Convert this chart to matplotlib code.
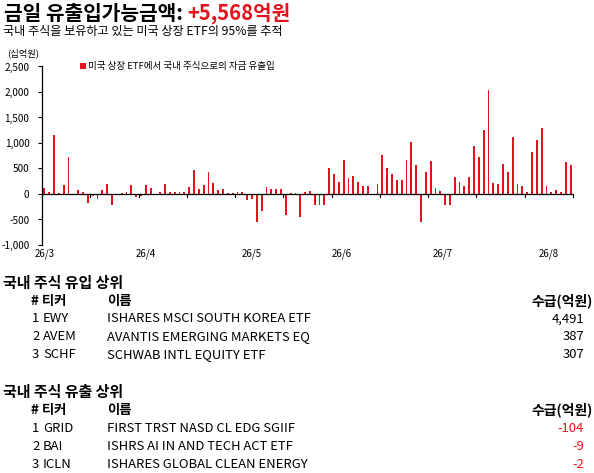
import matplotlib
matplotlib.use("Agg")
import matplotlib.pyplot as plt
import numpy as np

plt.rcParams['font.family'] = ['Noto Sans CJK KR', 'DejaVu Sans']

# ---------------- data ----------------
flows = [110, 30, 1160, 25, 180, 735, 0, 70, 45, -175,
         -45, -90, 70, 200, -220, 0, 20, 30, 180, -65,
         -30, 180, 120, 0, 45, 200, 45, 45, 40, 45,
         143, 475, 104, 170, 423, 221, 72, 91, 26, 15,
         45, 45, -110, -90, -545, -325, 143, 104, 91, 91,
         -420, 20, 26, -455, 45, 65, -208, -220, -220, 515,
         398, 245, 672, 322, 359, 228, 166, 150, 0, 200,
         773, 518, 398, 265, 280, 659, 1024, 574, -555, 440,
         655, 108, 50, -222, -222, 340, 229, 165, 343, 950,
         719, 1249, 2047, 225, 203, 598, 425, 1125, 203, 163,
         46, 814, 1066, 1301, 150, 46, 85, 46, 621, 559]
month_labels = ['26/3', '26/4', '26/5', '26/6', '26/7', '26/8']
month_pos = [0, 21, 43, 61.5, 82.5, 104.5]
yticks = [-1000, -500, 0, 500, 1000, 1500, 2000, 2500]

title_black = '금일 유출입가능금액: '
title_red = '+5,568억원'
subtitle = '국내 주식을 보유하고 있는 미국 상장 ETF의 95%를 추적'
unit_label = '(십억원)'
legend_label = '미국 상장 ETF에서 국내 주식으로의 자금 유출입'

in_title = '국내 주식 유입 상위'
in_rank = ['1', '2', '3']
in_ticker = ['EWY', 'AVEM', 'SCHF']
in_name = ['ISHARES MSCI SOUTH KOREA ETF', 'AVANTIS EMERGING MARKETS EQ', 'SCHWAB INTL EQUITY ETF']
in_value = ['4,491', '387', '307']

out_title = '국내 주식 유출 상위'
out_rank = ['1', '2', '3']
out_ticker = ['GRID', 'BAI', 'ICLN']
out_name = ['FIRST TRST NASD CL EDG SGIIF', 'ISHRS AI IN AND TECH ACT ETF', 'ISHARES GLOBAL CLEAN ENERGY']
out_value = ['-104', '-9', '-2']

hdr_rank = '# 티커'
hdr_name = '이름'
hdr_value = '수급(억원)'

RED = '#E3121B'
W, H = 594, 473

fig = plt.figure(figsize=(W / 100, H / 100), dpi=100)

def fx(px):
    return px / W

def fy(py):
    return 1 - py / H

# ---------------- title ----------------
t1 = fig.text(fx(4), fy(13), title_black, fontsize=14.6, fontweight='bold', color='black', va='center', ha='left')
fig.canvas.draw()
r = fig.canvas.get_renderer()
bb = t1.get_window_extent(renderer=r)
fig.text(bb.x1 / W, fy(13), title_red, fontsize=14.6, fontweight='bold', color=RED, va='center', ha='left')
fig.text(fx(3), fy(31), subtitle, fontsize=8.75, color='black', va='center', ha='left')

# ---------------- chart ----------------
left, right = 42, 573
top, bottom = 66.5, 245
ax = fig.add_axes([fx(left), fy(bottom), fx(right - left), (bottom - top) / H])
x = np.arange(len(flows))
ax.bar(x, flows, width=0.38, color=RED, label=legend_label, zorder=2)
ax.set_xlim(-0.5, len(flows) - 0.5)
ax.set_ylim(-1000, 2500)
for s in ['top', 'right', 'bottom']:
    ax.spines[s].set_visible(False)
ax.spines['left'].set_linewidth(0.9)
ax.axhline(0, color='black', lw=0.9, zorder=3)
ax.set_yticks(yticks)
ax.set_yticklabels([f'{v:,}' for v in yticks], fontsize=7.2)
ax.tick_params(axis='y', length=3, width=0.8, pad=6)
ax.set_xticks([])
# tick marks on zero line every 10 categories
for b in np.arange(-0.5, len(flows), 10):
    ax.plot([b, b], [0, -60], color='black', lw=0.8, zorder=3, clip_on=False)
for p, lab in zip(month_pos, month_labels):
    ax.text(p, -1060, lab, transform=ax.transData, fontsize=7, ha='center', va='top')

leg = ax.legend(loc='upper left', bbox_to_anchor=(0.065, 1.045), frameon=False, fontsize=6.85,
                handlelength=0.55, handleheight=0.55, handletextpad=0.3, borderaxespad=0)
fig.text(fx(7), fy(53), unit_label, fontsize=6.7, va='center', ha='left')

# ---------------- tables ----------------
def table(y0, title, ranks, tickers, names, values, vcolor):
    fig.text(fx(3), fy(y0), title, fontsize=10.8, fontweight='bold', va='center', ha='left')
    yh = y0 + 18
    fig.text(fx(31), fy(yh), hdr_rank, fontsize=9.6, fontweight='bold', va='center', ha='left')
    fig.text(fx(107), fy(yh), hdr_name, fontsize=9.6, fontweight='bold', va='center', ha='left')
    fig.text(fx(593), fy(yh), hdr_value, fontsize=10, fontweight='bold', va='center', ha='right')
    for i in range(len(ranks)):
        yr = yh + 18 * (i + 1)
        fig.text(fx(32), fy(yr), ranks[i], fontsize=9.4, va='center', ha='left')
        fig.text(fx(43), fy(yr), tickers[i], fontsize=9.4, va='center', ha='left')
        fig.text(fx(107), fy(yr), names[i], fontsize=9.4, va='center', ha='left')
        fig.text(fx(584), fy(yr), values[i], fontsize=9.4, va='center', ha='right', color=vcolor)

table(283, in_title, in_rank, in_ticker, in_name, in_value, 'black')
table(392, out_title, out_rank, out_ticker, out_name, out_value, RED)

fig.savefig('out.png', dpi=100)
